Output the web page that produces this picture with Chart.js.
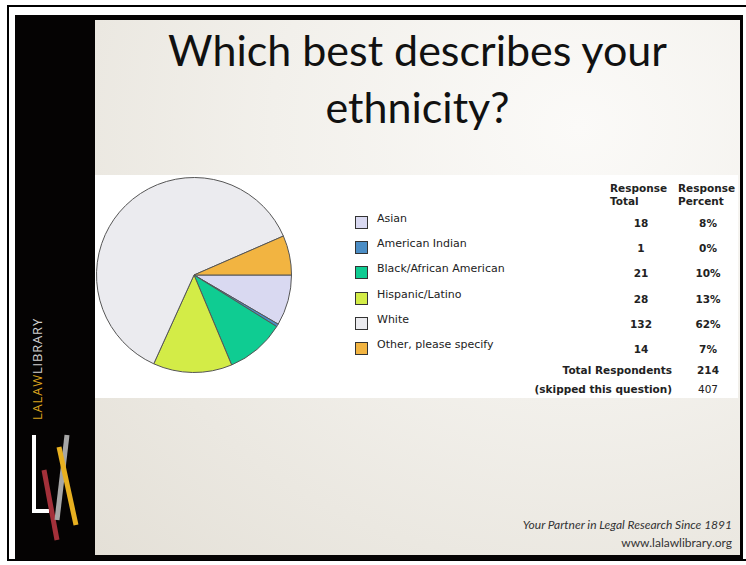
<!DOCTYPE html>
<html>
<head>
<meta charset="utf-8">
<script src="https://cdn.jsdelivr.net/npm/chart.js@4.4.1/dist/chart.umd.min.js"></script>
<style>
    body { margin: 0; width: 746px; height: 565px; background: #fff; position: relative; overflow: hidden; font-family: "DejaVu Sans", Verdana, sans-serif; }
    #outer { position: absolute; left: 7px; top: 5px; width: 760px; height: 556px; border: 2px solid #000; box-sizing: border-box; }
    #slide { position: absolute; left: 15px; top: 15px; width: 728px; height: 545px; background: #050303; }
    #content { position: absolute; left: 95px; top: 20px; width: 645px; height: 535px;
        background: radial-gradient(ellipse at 75% 20%, #fbfaf8 0%, #f2f0eb 45%, #e4e0d7 100%); }
    #title { position: absolute; left: 95px; top: 20px; width: 645px; text-align: center; font-family: Lato, "Open Sans", sans-serif;
        font-size: 43px; line-height: 57px; color: #111; padding-top: 1px; }
    #band { position: absolute; left: 95px; top: 175px; width: 643px; height: 223px; background: #fff; }
    #pie { position: absolute; left: 96px; top: 177px; }
    .lg { position: absolute; font-size: 10.5px; color: #222; white-space: nowrap; }
    .lab { font-size: 11px; }
    .box { position: absolute; width: 11px; height: 11px; border: 1px solid #333; }
    .b { font-weight: bold; }
    .c { transform: translateX(-50%); }
    .r { transform: translateX(-100%); }
    #brand { position: absolute; left: 37px; top: 369px; transform: translate(-50%, -50%) rotate(-90deg);
        font-family: "Open Sans", Lato, sans-serif; font-size: 13px; letter-spacing: 0.8px; color: #d0d0d0; white-space: nowrap; }
    #brand span { color: #d9a21e; }
    .foot { position: absolute; right: 14px; font-family: Lato, "Open Sans", sans-serif; font-size: 12px; color: #333; white-space: nowrap; }
</style>
</head>
<body>
<div id="outer"></div>
<div id="slide"></div>
<div id="content"></div>
<div id="title">Which best describes your<br>ethnicity?</div>
<div id="band"></div>
<canvas id="pie" width="196" height="196"></canvas>
<div id="legend"></div>
<div id="brand"><span>LALAW</span>LIBRARY</div>
<svg style="position:absolute;left:0;top:0" width="100" height="565">
    <polyline points="34,435 34,511 49,511" fill="none" stroke="#fff" stroke-width="4"/>
    <line x1="44" y1="470" x2="57" y2="540" stroke="#a3303a" stroke-width="5"/>
    <line x1="67" y1="435" x2="57" y2="520" stroke="#a6a6a6" stroke-width="5"/>
    <line x1="59" y1="447" x2="76" y2="525" stroke="#e8b020" stroke-width="5"/>
</svg>
<div class="foot" style="top:517px;font-style:italic">Your Partner in Legal Research Since 1891</div>
<div class="foot" style="top:535px">www.lalawlibrary.org</div>

<script>
    const categories = ['Asian', 'American Indian', 'Black/African American', 'Hispanic/Latino', 'White', 'Other, please specify'];
    const responseTotal = [18, 1, 21, 28, 132, 14];
    const responsePercent = ['8%', '0%', '10%', '13%', '62%', '7%'];
    const sliceColors = ['#d9d9f1', '#4b8dc5', '#0fcc92', '#d3ec47', '#ebebef', '#f2b441'];
    const totalRespondents = 214;
    const skipped = 407;

    // legend + table beside the pie
    const legend = document.getElementById('legend');
    let html = '';
    html += '<div class="lg b" style="left:610px;top:182px;line-height:13px">Response<br>Total</div>';
    html += '<div class="lg b" style="left:678px;top:182px;line-height:13px">Response<br>Percent</div>';
    categories.forEach((cat, i) => {
        const y = 216 + i * 25.2;
        html += `<div class="box" style="left:355px;top:${y}px;background:${sliceColors[i]}"></div>`;
        html += `<div class="lg lab" style="left:377px;top:${y - 4}px">${cat}</div>`;
        html += `<div class="lg b c" style="left:641px;top:${y + 1}px">${responseTotal[i]}</div>`;
        html += `<div class="lg b c" style="left:708px;top:${y + 1}px">${responsePercent[i]}</div>`;
    });
    html += '<div class="lg b r" style="left:672px;top:364px">Total Respondents</div>';
    html += `<div class="lg b c" style="left:708px;top:364px">${totalRespondents}</div>`;
    html += '<div class="lg b r" style="left:672px;top:383px">(skipped this question)</div>';
    html += `<div class="lg c" style="left:708px;top:383px">${skipped}</div>`;
    legend.innerHTML = html;

    new Chart(document.getElementById('pie'), {
        type: 'pie',
        data: {
            labels: categories,
            datasets: [{
                data: responseTotal,
                backgroundColor: sliceColors,
                borderColor: '#555',
                borderWidth: 1
            }]
        },
        options: {
            responsive: false,
            animation: false,
            rotation: 90,
            layout: { padding: 0 },
            plugins: {
                legend: { display: false },
                tooltip: { enabled: false }
            }
        }
    });
</script>
</body>
</html>
